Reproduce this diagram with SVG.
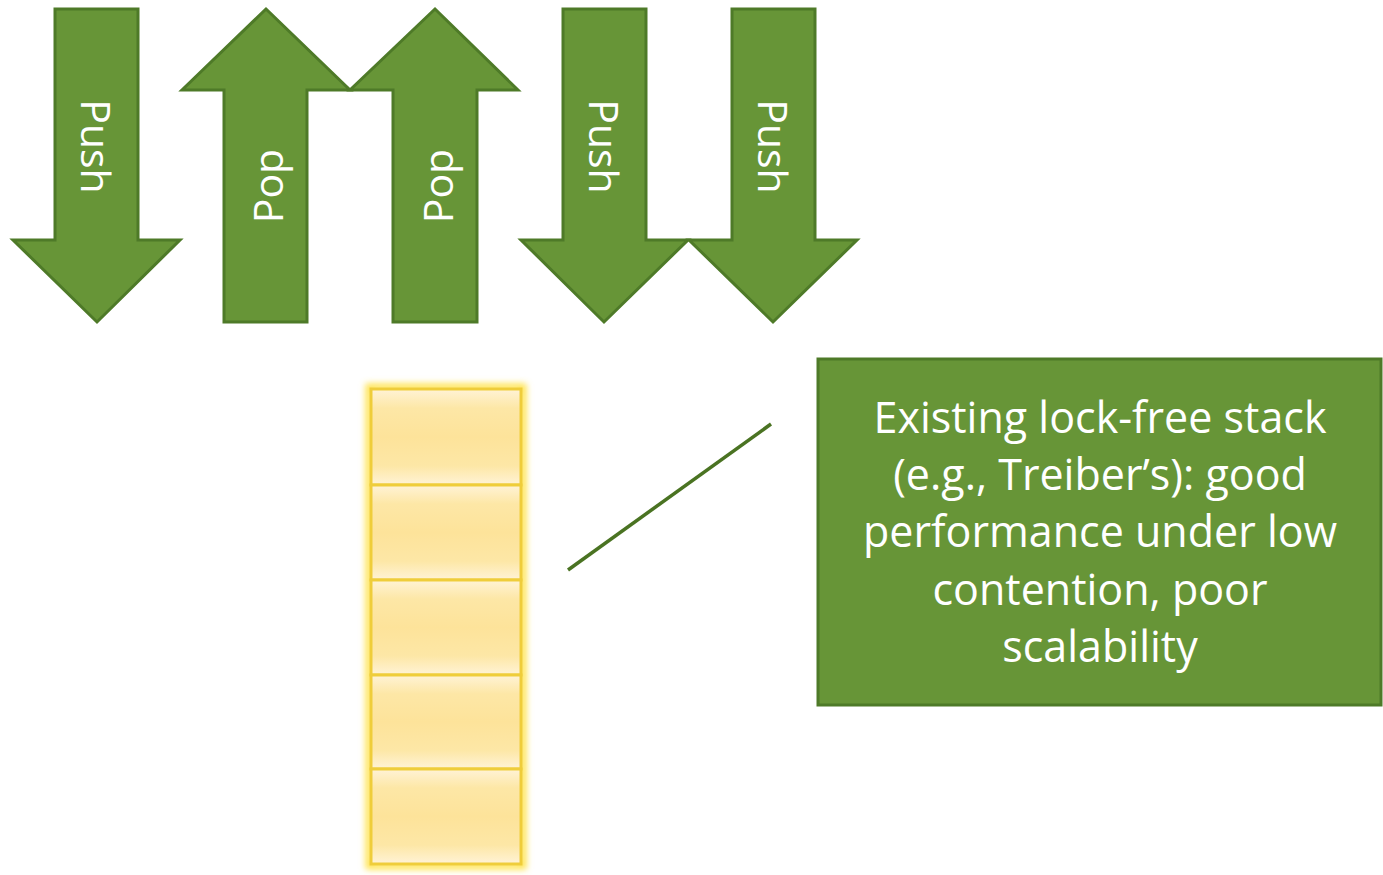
<svg xmlns="http://www.w3.org/2000/svg" width="1383" height="875" viewBox="0 0 1383 875">
<defs>
<style>
.arrow{fill:#679537;stroke:#4e7a28;stroke-width:3;stroke-linejoin:miter}
.lbl{font-family:"Open Sans","DejaVu Sans",sans-serif;font-size:41px;fill:#ffffff;text-anchor:middle}
.box{fill:#679537;stroke:#4e7a28;stroke-width:3}
.btxt{font-family:"Open Sans","DejaVu Sans",sans-serif;font-size:43px;fill:#ffffff;text-anchor:middle}
.cell{fill:url(#cellg);stroke:#efcd3a;stroke-width:3}
.conn{stroke:#4a7322;stroke-width:3.5;fill:none}
</style>
<linearGradient id="cellg" x1="0" y1="0" x2="0" y2="1">
<stop offset="0" stop-color="#fff3d6"/>
<stop offset="0.2" stop-color="#fde7a6"/>
<stop offset="0.5" stop-color="#fde39a"/>
<stop offset="0.8" stop-color="#fde7a6"/>
<stop offset="1" stop-color="#fff3d6"/>
</linearGradient>
<filter id="glow" x="-20%" y="-10%" width="140%" height="120%">
<feGaussianBlur stdDeviation="3"/>
</filter>
</defs>
<rect width="1383" height="875" fill="#ffffff"/>

<g id="push1">
<polygon class="arrow" points="55,9 138,9 138,240 180,240 97,322 13,240 55,240"/>
<text class="lbl" transform="translate(81,146.5) rotate(90)">Push</text>
</g>
<g id="pop1">
<polygon class="arrow" points="266,9 350,90 307,90 307,322 224,322 224,90 182,90"/>
<text class="lbl" transform="translate(283,186) rotate(-90)">Pop</text>
</g>
<g id="pop2">
<polygon class="arrow" points="435,9 518,90 477,90 477,322 393,322 393,90 350,90"/>
<text class="lbl" transform="translate(452.5,186) rotate(-90)">Pop</text>
</g>
<g id="push3">
<polygon class="arrow" points="563,9 646,9 646,240 688,240 604,322 521,240 563,240"/>
<text class="lbl" transform="translate(589,146.5) rotate(90)">Push</text>
</g>
<g id="push4">
<polygon class="arrow" points="732,9 815,9 815,240 857,240 773,322 689,240 732,240"/>
<text class="lbl" transform="translate(758,146.5) rotate(90)">Push</text>
</g>

<g id="stack">
<rect x="369" y="387" width="154" height="479" fill="none" stroke="#ffe34d" stroke-width="7" filter="url(#glow)"/>
<rect class="cell" x="371" y="389" width="150" height="96"/>
<rect class="cell" x="371" y="485" width="150" height="95"/>
<rect class="cell" x="371" y="580" width="150" height="95"/>
<rect class="cell" x="371" y="675" width="150" height="94"/>
<rect class="cell" x="371" y="769" width="150" height="95"/>
</g>

<g id="connectors">
<line class="conn" x1="568" y1="570" x2="771" y2="424"/>
</g>

<g id="note">
<rect class="box" x="818" y="359" width="563" height="346"/>
<text class="btxt" x="1100" y="433">Existing lock-free stack</text>
<text class="btxt" x="1100" y="490">(e.g., Treiber’s): good</text>
<text class="btxt" x="1100" y="547">performance under low</text>
<text class="btxt" x="1100" y="605">contention, poor</text>
<text class="btxt" x="1100" y="662">scalability</text>
</g>
</svg>
